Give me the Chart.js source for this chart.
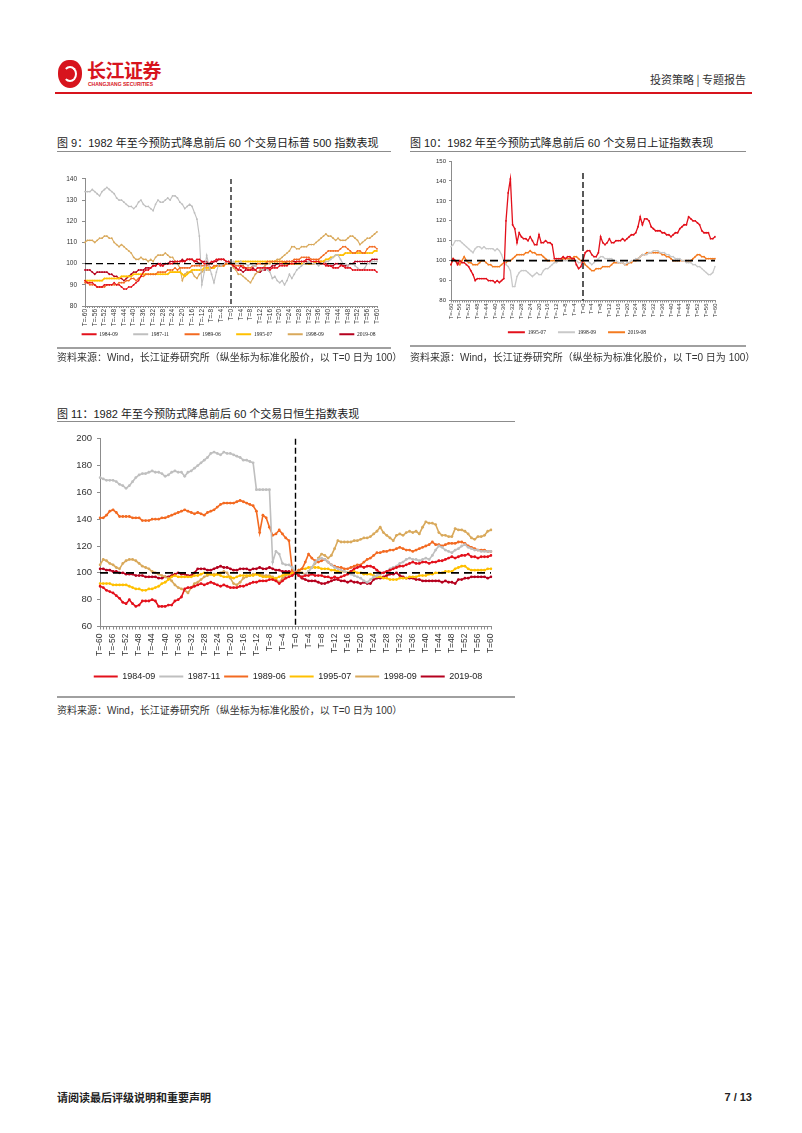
<!DOCTYPE html>
<html><head><meta charset="utf-8">
<script src="https://cdn.jsdelivr.net/npm/chart.js@4.4.0/dist/chart.umd.min.js"></script>
<style>
html,body{margin:0;padding:0;background:#fff;}
body{width:802px;height:1133px;position:relative;overflow:hidden;font-family:"Liberation Sans",Arial,"Noto Sans CJK SC",sans-serif;color:#222;}
.abs{position:absolute;white-space:nowrap;}
.title{font-size:11px;line-height:14px;color:#1a1a1a;}
.src{font-size:10px;line-height:12px;color:#333;}
.thin{position:absolute;height:1px;background:#8c8c8c;}
.thick{position:absolute;height:2px;background:#a0a0a0;}
canvas{position:absolute;}
</style></head>
<body>
<!-- header -->
<div class="abs" style="left:58px;top:60px;width:24px;height:28px;border-radius:45% 45% 50% 50%;background:#d7141d;"></div>
<div class="abs" style="left:63px;top:66px;width:14px;height:16px;border-radius:50%;border:2px solid #fff;border-left-color:transparent;box-sizing:border-box;"></div>
<div class="abs" style="left:87px;top:59px;font-size:19px;font-weight:bold;color:#d7141d;font-family:'Noto Sans CJK SC';letter-spacing:-0.5px;line-height:22px;">长江证券</div>
<div class="abs" style="left:88px;top:81px;font-size:5px;color:#d7141d;font-weight:bold;line-height:6px;">CHANGJIANG SECURITIES</div>
<div class="abs" style="left:650px;top:72px;font-size:11px;line-height:14px;color:#333;font-family:'Noto Sans CJK SC';">投资策略 | 专题报告</div>
<div class="abs" style="left:55px;top:92px;width:697px;height:2px;background:#d7141d;"></div>

<!-- chart 9 -->
<div class="abs title" style="left:57px;top:136px;">图 9：1982 年至今预防式降息前后 60 个交易日标普 500 指数表现</div>
<div class="thin" style="left:57px;top:151px;width:334px;"></div>
<canvas id="c9" width="343" height="191" style="left:57px;top:170px;"></canvas>
<div class="thick" style="left:57px;top:347px;width:334px;"></div>
<div class="abs src" style="left:57px;top:352px;">资料来源：Wind，长江证券研究所（纵坐标为标准化股价，以 T=0 日为 100）</div>

<!-- chart 10 -->
<div class="abs title" style="left:410px;top:136px;">图 10：1982 年至今预防式降息前后 60 个交易日上证指数表现</div>
<div class="thin" style="left:410px;top:151px;width:336px;"></div>
<canvas id="c10" width="294" height="196" style="left:430px;top:153px;"></canvas>
<div class="thick" style="left:410px;top:345px;width:336px;"></div>
<div class="abs src" style="left:410px;top:352px;">资料来源：Wind，长江证券研究所（纵坐标为标准化股价，以 T=0 日为 100）</div>

<!-- chart 11 -->
<div class="abs title" style="left:57px;top:407px;">图 11：1982 年至今预防式降息前后 60 个交易日恒生指数表现</div>
<div class="thin" style="left:57px;top:421px;width:458px;"></div>
<canvas id="c11" width="462" height="263" style="left:57px;top:428px;"></canvas>
<div class="thick" style="left:57px;top:696px;width:458px;"></div>
<div class="abs src" style="left:57px;top:705px;">资料来源：Wind，长江证券研究所（纵坐标为标准化股价，以 T=0 日为 100）</div>

<!-- footer -->
<div class="abs" style="left:57px;top:1090px;font-size:11px;line-height:14px;font-weight:bold;color:#222;font-family:'Noto Sans CJK SC';">请阅读最后评级说明和重要声明</div>
<div class="abs" style="left:700px;top:1090px;width:52px;text-align:right;font-size:11px;line-height:14px;font-weight:bold;color:#222;">7 / 13</div>

<script>
// ---------- categories ----------
const DAYS = Array.from({length: 121}, (_, i) => i - 60);
const LABELS = DAYS.map(d => 'T=' + d);
const LABEL_STEP = 4;
const EVENT_LABEL = 'T=0';
const REF_LEVEL = 100;

// ---------- 标普500 (S&P 500) ----------
const SPX_1984_09 = [92,91,91,91,90,89,89,89,90,90, 90,90,91,90,90,89,88,88,89,89, 90,91,92,94,96,97,97,98,99,99, 100,99,99,100,100,100,100,101,101,101, 101,101,102,102,102,101,102,102,101,100, 100,100,101,101,102,102,102,102,101,101, 100,
 99,98,97,99,98,98,97,97,97,97, 98,98,98,98,98,97,98,98,98,99, 99,99,99,100,100,100,101,101,101,101, 102,102,101,101,101,101,100,100,99,99, 99,98,98,98,99,99,98,98,98,97, 97,97,97,97,97,97,97,97,97,96];
const SPX_1987_11 = [134,134,134,135,134,133,132,134,135,136, 135,134,133,131,130,130,129,128,127,127, 126,127,129,130,128,127,127,126,125,128, 130,129,129,130,131,130,132,132,131,129, 128,126,127,128,127,124,121,113,90,96, 104,99,95,91,96,100,99,100,101,100, 100,
 101,100,100,101,100,100,99,100,99,99, 98,98,97,98,97,96,93,94,92,91, 92,90,92,95,93,95,97,98,99,100, 100,101,100,100,100,99,100,100,101,101, 102,103,104,104,102,100,100,99,100,100, 99,98,97,97,98,100,100,101,101,101];
const SPX_1989_06 = [91,91,90,90,90,89,89,89,89,90, 90,90,90,90,91,91,91,92,92,93, 93,92,93,94,94,95,95,95,95,95, 96,96,96,96,97,97,97,98,97,98, 98,98,98,98,99,99,99,99,99,99, 99,99,98,99,99,99,99,99,100,100, 100,
 100,99,99,99,99,98,98,98,99,99, 100,100,100,100,101,101,101,101,101,101, 101,101,101,101,101,102,102,102,103,103, 103,103,102,102,102,102,103,104,105,106, 106,106,106,106,107,108,108,107,106,105, 105,106,106,105,105,107,108,108,108,107];
const SPX_1995_07 = [92,92,92,92,92,92,92,92,93,93, 93,93,93,93,93,94,94,94,94,94, 95,95,95,95,95,95,95,95,95,95, 95,95,95,95,95,96,96,96,96,96, 95,94,95,96,97,97,97,97,97,98, 98,98,98,98,99,99,99,99,100,100, 100,
 100,101,101,101,101,101,101,101,101,101, 101,101,101,101,101,101,101,101,101,101, 101,100,100,100,100,100,100,100,100,100, 100,100,100,100,101,101,101,101,102,102, 103,103,104,104,104,104,105,105,105,105, 105,105,105,105,105,105,105,105,106,106];
const SPX_1998_09 = [110,111,111,111,110,111,112,112,113,113, 112,112,110,109,108,109,108,107,106,105, 103,102,102,103,102,102,101,102,101,103, 104,104,104,105,104,103,103,101,100,98, 92,95,96,96,96,94,93,95,96,97, 97,97,98,98,99,99,99,99,100,100, 100,
 98,97,95,95,94,93,92,91,93,95, 96,97,98,99,100,100,101,101,102,102, 103,104,105,106,108,108,107,107,108,108, 108,109,109,109,110,111,112,113,114,113, 113,112,111,112,111,111,111,112,113,113, 112,111,109,110,111,112,112,113,114,115];
const SPX_2019_08 = [97,97,97,96,95,96,96,96,96,96, 95,95,94,94,93,93,92,93,94,95, 96,96,97,97,97,98,98,98,99,99, 100,100,99,100,100,101,101,101,101,101, 102,101,102,102,102,101,101,100,101,101, 101,100,100,101,101,102,102,102,101,101, 100,
 99,98,97,97,96,97,97,97,98,97, 96,96,97,97,98,98,99,99,100,100, 100,100,101,101,101,101,101,101,101,101, 101,100,100,100,101,101,101,101,100,99, 99,99,100,100,100,99,99,99,100,100, 101,101,101,101,101,101,101,102,102,102];

// ---------- 上证指数 (Shanghai Composite) ----------
const SH_1995_07 = [98,101,100,98,100,99,99,98,97,95, 93,90,91,91,91,91,91,90,90,90, 89,90,89,90,91,120,134,141,118,116, 109,114,112,111,111,110,112,110,108,108, 113,109,109,110,109,109,108,101,101,101, 101,102,101,102,102,101,101,98,96,97, 100,
 104,105,105,103,102,102,104,112,109,108, 109,111,109,109,110,110,110,111,110,111, 112,113,113,114,117,122,118,121,121,120, 117,116,115,115,115,114,114,113,113,112, 113,114,114,116,117,118,118,122,121,120, 120,119,118,115,114,114,114,111,111,112];
const SH_1998_09 = [107,108,110,110,110,109,108,107,106,105, 104,106,107,107,106,107,106,106,106,106, 105,106,105,103,100,98,97,95,87,87, 92,94,95,95,95,94,93,92,93,94, 93,93,95,96,96,97,98,99,99,100, 100,100,100,100,100,100,100,100,99,99, 100,
 100,100,99,98,99,100,101,102,102,101, 101,101,101,100,100,99,99,99,98,99, 99,100,100,101,101,102,103,103,103,104, 104,105,105,105,104,104,104,103,103,102, 102,101,101,101,100,100,99,99,99,98, 98,97,97,96,95,94,93,93,94,97];
const SH_2019_08 = [98,101,100,99,98,100,102,100,99,99, 98,98,98,99,100,100,99,98,98,97, 97,97,97,98,99,99,100,100,101,102, 103,103,103,103,104,104,105,104,104,103, 103,103,102,101,100,100,100,100,100,100, 100,101,101,101,101,101,102,102,101,100, 100,
 98,97,96,95,95,96,96,96,97,97, 97,97,98,99,99,99,99,99,98,98, 99,99,100,100,101,102,103,103,104,104, 104,104,104,104,104,103,103,102,102,101, 100,100,100,100,100,100,100,100,100,101, 102,103,103,102,102,101,101,101,101,101];

// ---------- 恒生指数 (Hang Seng) ----------
const HSI_1984_09 = [90,89,87,86,85,83,81,78,77,80, 77,75,76,79,79,79,80,79,75,75, 75,76,76,79,80,82,88,89,89,90, 91,92,91,92,93,92,91,90,91,90, 89,89,89,90,90,91,92,93,93,94, 94,94,95,95,94,92,94,96,97,98, 100,
 98,97,98,98,99,98,98,98,97,97, 96,97,96,97,98,99,101,103,104,105, 104,105,105,104,102,100,100,101,102,103, 104,105,105,106,107,108,107,107,108,108, 107,108,108,109,109,110,111,112,111,112, 113,113,114,112,112,111,112,112,112,113];
const HSI_1987_11 = [171,170,169,169,169,168,166,165,163,165, 168,171,173,174,174,175,176,175,175,174, 172,173,175,176,175,175,172,175,176,178, 180,182,184,186,189,190,189,188,190,189, 189,188,187,186,184,184,183,182,162,162, 162,162,162,108,116,114,107,106,106,104, 100,
 98,97,99,101,104,108,110,111,110,108, 106,104,103,102,101,100,99,98,97,96, 94,93,95,97,98,99,100,101,103,104, 105,107,108,110,111,110,110,109,110,111, 110,113,117,120,119,117,116,115,117,118, 120,121,119,118,117,117,116,116,116,116];
const HSI_1989_06 = [141,141,143,146,147,145,142,142,142,142, 141,141,141,139,139,139,140,140,140,141, 141,142,143,144,145,146,147,146,145,144, 145,144,143,145,146,147,149,151,152,152, 152,152,153,154,153,152,151,150,146,130, 143,141,134,128,129,132,129,126,124,102, 100,
 102,103,108,114,111,109,108,109,110,108, 106,105,104,104,103,103,104,105,106,106, 108,110,111,113,115,115,116,116,117,117, 118,119,118,117,117,116,117,118,119,120, 121,123,121,121,120,121,122,122,122,123, 123,122,120,119,118,117,117,117,116,116];
const HSI_1995_07 = [92,92,92,92,91,91,91,91,91,90, 89,88,88,87,87,88,88,89,90,92, 93,95,97,98,97,97,97,97,97,98, 98,99,100,99,99,98,99,98,97,97, 97,96,97,98,98,98,98,98,99,98, 97,97,97,96,96,97,98,99,99,100, 100,
 102,103,103,104,104,104,104,103,103,103, 102,102,101,101,101,100,101,101,100,100, 99,99,99,98,97,97,96,96,95,95, 95,96,96,96,97,97,97,98,98,98, 99,99,100,100,100,101,101,101,103,104, 105,105,103,102,102,102,102,102,103,103];
const HSI_1998_09 = [106,110,109,107,106,104,103,107,109,110, 110,109,107,105,104,103,101,100,99,98, 97,96,94,91,89,88,87,85,89,92, 93,95,97,98,99,99,99,100,101,100, 96,92,91,93,96,97,98,99,99,99, 98,98,98,97,95,93,96,98,99,99, 100,
 101,100,99,101,104,107,111,114,113,111, 113,118,124,123,123,123,123,124,124,125, 126,126,127,129,131,134,130,128,126,124, 128,129,128,130,131,130,131,129,134,138, 137,137,136,130,128,128,127,127,133,132, 132,131,129,126,125,127,127,128,131,132];
const HSI_2019_08 = [103,103,102,102,101,101,100,100,99,99, 99,98,98,98,97,97,97,97,96,96, 97,97,98,99,100,99,99,98,98,100, 103,103,103,102,102,103,104,105,104,104, 103,102,102,103,103,103,102,103,103,104, 103,103,104,103,102,102,101,101,101,100, 100,
 98,96,95,94,94,94,93,92,92,93, 94,95,95,94,94,93,94,93,93,92, 93,92,92,95,96,96,97,98,99,99, 100,98,97,96,96,96,95,95,94,94, 94,94,94,94,93,94,93,93,92,95, 95,96,96,97,97,97,97,97,96,97];

// ---------- series meta ----------
const C = {r84:'#e3101b', g87:'#bfbfbf', o89:'#f36a21', y95:'#ffc000', t98:'#d9a95b', d19:'#b5001e',
           shR:'#e3101b', shG:'#c9c9c9', shO:'#f47b20'};

const refLines = {
  id: 'refLines',
  afterDatasetsDraw(chart, args, o) {
    const {ctx, chartArea} = chart;
    const x = chart.scales.x, y = chart.scales.y;
    ctx.save();
    ctx.strokeStyle = '#000';
    const yy = y.getPixelForValue(REF_LEVEL);
    ctx.lineWidth = o.hw; ctx.setLineDash(o.hd);
    ctx.beginPath();
    ctx.moveTo(x.getPixelForValue(0), yy);
    ctx.lineTo(x.getPixelForValue(LABELS.length - 1), yy);
    ctx.stroke();
    const xx = x.getPixelForValue(LABELS.indexOf(EVENT_LABEL));
    ctx.lineWidth = o.vw; ctx.setLineDash(o.vd);
    ctx.beginPath();
    ctx.moveTo(xx, y.getPixelForValue(o.vTop));
    ctx.lineTo(xx, chartArea.bottom);
    ctx.stroke();
    ctx.restore();
  }
};

// moves the legend box vertically after layout
const legendShift = {
  id: 'legendShift',
  afterLayout(chart, args, o) {
    if (chart.legend && o.dy) { chart.legend.top += o.dy; chart.legend.bottom += o.dy; }
  }
};

function ds(label, data, color, bw, pr) {
  return {label, data, borderColor: color, backgroundColor: color, borderWidth: bw,
    pointRadius: pr, pointBackgroundColor: color, pointBorderWidth: 0, pointHoverRadius: 0, tension: 0};
}

function makeChart(id, datasets, g) {
  new Chart(document.getElementById(id), {
    type: 'line',
    data: {labels: LABELS, datasets},
    plugins: [refLines, legendShift],
    options: {
      responsive: false, animation: false, devicePixelRatio: 1,
      layout: {padding: {top: g.padTop, left: 0, right: 0, bottom: 0}},
      plugins: {
        tooltip: {enabled: false},
        refLines: g.ref,
        legendShift: {dy: g.legDy},
        legend: {
          position: 'bottom',
          labels: {
            boxWidth: g.boxW, boxHeight: 2, padding: g.legPad, color: '#222',
            font: {family: g.legFamily, size: g.legSize},
            generateLabels(chart) {
              const items = Chart.defaults.plugins.legend.labels.generateLabels(chart);
              items.forEach(it => { it.lineWidth = 0; });
              return items;
            }
          }
        }
      },
      scales: {
        x: {
          grid: {drawOnChartArea: false, drawTicks: true, tickLength: g.xTick, color: '#8c8c8c'},
          border: {display: true, color: '#8c8c8c', width: 1},
          ticks: {autoSkip: false, minRotation: 90, maxRotation: 90, padding: g.xPad, color: '#333',
            font: {family: 'Liberation Sans', size: g.xFont},
            callback: (v) => (v % LABEL_STEP === 0 ? LABELS[v] : '')},
          afterFit(s) { s.height = g.xH; }
        },
        y: {
          min: g.min, max: g.max,
          grid: {drawOnChartArea: false, drawTicks: true, tickLength: g.yTick, color: '#8c8c8c'},
          border: {display: true, color: '#8c8c8c', width: 1},
          ticks: {stepSize: g.step, padding: g.yPad, color: '#333', font: {family: 'Liberation Sans', size: g.yFont}},
          afterFit(s) { s.width = g.yW; }
        },
        y2: {
          position: 'right', display: true,
          grid: {display: false}, border: {display: false}, ticks: {display: false},
          afterFit(s) { s.width = g.y2W; }
        }
      }
    }
  });
}

// Figure 9: S&P 500
makeChart('c9', [
  ds('1984-09', SPX_1984_09, C.r84, 1.1, 0.9),
  ds('1987-11', SPX_1987_11, C.g87, 1.1, 0.9),
  ds('1989-06', SPX_1989_06, C.o89, 1.1, 0.9),
  ds('1995-07', SPX_1995_07, C.y95, 1.6, 0.9),
  ds('1998-09', SPX_1998_09, C.t98, 1.1, 0.9),
  ds('2019-08', SPX_2019_08, C.d19, 1.1, 0.9)
], {padTop: 8, min: 80, max: 140, step: 10, yW: 28, y2W: 23, xH: 24, yFont: 6.5, xFont: 6.5,
    yTick: 3, yPad: 5, xTick: 2, xPad: 1, boxW: 15, legPad: 15.5, legSize: 5.5, legFamily: 'Liberation Serif',
    legDy: -14, ref: {hw: 1.3, hd: [7, 4], vw: 1.2, vd: [5, 3], vTop: 140}});

// Figure 10: Shanghai
makeChart('c10', [
  ds('1995-07', SH_1995_07, C.shR, 1.3, 0.9),
  ds('1998-09', SH_1998_09, C.shG, 1.3, 0.8),
  ds('2019-08', SH_2019_08, C.shO, 1.3, 0.9)
], {padTop: 8, min: 80, max: 150, step: 10, yW: 21, y2W: 9, xH: 21, yFont: 6, xFont: 6,
    yTick: 2, yPad: 3, xTick: 2, xPad: 1, boxW: 17, legPad: 12, legSize: 5.5, legFamily: 'Liberation Serif',
    legDy: -4, ref: {hw: 1.6, hd: [8, 5], vw: 1.3, vd: [6, 3], vTop: 144}});

// Figure 11: Hang Seng
makeChart('c11', [
  ds('1984-09', HSI_1984_09, C.r84, 1.6, 1.4),
  ds('1987-11', HSI_1987_11, C.g87, 1.6, 1.4),
  ds('1989-06', HSI_1989_06, C.o89, 1.6, 1.4),
  ds('1995-07', HSI_1995_07, C.y95, 1.6, 1.4),
  ds('1998-09', HSI_1998_09, C.t98, 1.6, 1.4),
  ds('2019-08', HSI_2019_08, C.d19, 1.6, 1.4)
], {padTop: 9, min: 60, max: 200, step: 20, yW: 43, y2W: 28, xH: 41.5, yFont: 9.5, xFont: 8.5,
    yTick: 3, yPad: 5, xTick: 3, xPad: 4, boxW: 24, legPad: 4, legSize: 9, legFamily: 'Liberation Sans',
    legDy: 0, ref: {hw: 1.6, hd: [8, 5], vw: 1.4, vd: [6, 3], vTop: 200}});
</script>
</body></html>
